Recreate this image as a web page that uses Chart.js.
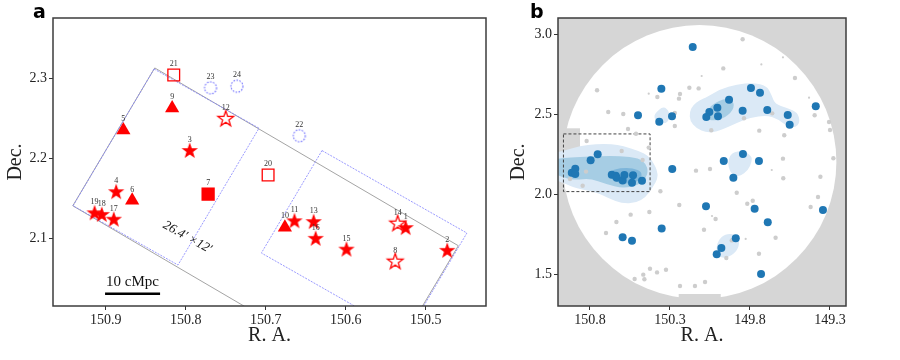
<!DOCTYPE html>
<html>
<head>
<meta charset="utf-8">
<script src="https://cdn.jsdelivr.net/npm/chart.js@4.4.1/dist/chart.umd.min.js"></script>
<style>
html, body { margin: 0; padding: 0; background: #fff; }
#wrap { position: relative; width: 900px; height: 360px; }
canvas { position: absolute; top: 0; }
</style>
</head>
<body>
<div id="wrap">
  <canvas id="panelA" width="500" height="360" style="left:0"></canvas>
  <canvas id="panelB" width="400" height="360" style="left:500px"></canvas>
</div>
<script>
// ---- panel a : members, [id, R.A., Dec.] ----
const filledStars = [[3,150.795,2.209],[4,150.887,2.1575],[17,150.890,2.123],[18,150.905,2.129],[19,150.914,2.131],
  [11,150.664,2.121],[13,150.640,2.120],[16,150.6375,2.099],[15,150.599,2.0855],[1,150.525,2.1125],[2,150.473,2.084]];
const openStars = [[12,150.750,2.249],[14,150.535,2.118],[8,150.538,2.0704]];
const triangles = [[9,150.817,2.2625],[5,150.878,2.235],[6,150.867,2.147],[10,150.676,2.1134]];
const filledSquares = [[7,150.772,2.155]];
const openSquares = [[21,150.815,2.304],[20,150.697,2.179]];
const dottedCircles = [[23,150.769,2.288],[24,150.736,2.290],[22,150.658,2.228]];

// field outlines (corners, R.A./Dec.)
const wideField = [[150.83875,2.3129],[150.4591,2.0904],[150.5616,1.9179],[150.94125,2.1404]];
const pointingA = [[150.8396,2.3116],[150.7084,2.2375],[150.8097,2.0663],[150.9409,2.1404]];
const pointingB = [[150.6296,2.2095],[150.4484,2.1063],[150.5242,1.9781],[150.7054,2.0813]];

const boxRA = [150.4245, 150.966];
const boxDec = [2.015, 2.3754];
const raTicksA = [150.9, 150.8, 150.7, 150.6, 150.5];
const decTicksA = [2.1, 2.2, 2.3];

const scaleBarRA = [150.9009, 150.8321];
const scaleBarDec = 2.0304;
const scaleBarText = '10 cMpc';
const sizeText = '26.4\u2032 \u00d712\u2032';

// ---- panel b ----
const blueDots = [[150.158,2.919],[150.354,2.658],[150.5,2.492],[150.367,2.452],[150.2875,2.486],[150.752,2.248],[150.796,2.211],
  [149.794,2.6625],[149.7375,2.633],[149.931,2.589],[150.004,2.539],[150.054,2.5125],[150.073,2.481],[150.0,2.486],
  [149.846,2.52],[149.692,2.525],[149.564,2.494],[149.552,2.433],[149.389,2.548],[149.844,2.25],[149.964,2.206],
  [149.744,2.206],[149.904,2.102],[150.075,1.923],[149.771,1.908],[149.689,1.823],[149.344,1.9],[149.889,1.723],
  [149.979,1.6625],[150.008,1.623],[149.731,1.5],[150.892,2.158],[150.914,2.133],[150.892,2.125],[150.664,2.121],
  [150.639,2.114],[150.633,2.102],[150.596,2.085],[150.585,2.119],[150.531,2.117],[150.5375,2.071],[150.475,2.083],
  [150.286,2.156],[150.352,1.785],[150.596,1.729],[150.5375,1.708]];
const grayDots = [[150.756,2.648],[150.379,2.606],[150.2375,2.625],[150.244,2.596],[150.179,2.664],[150.121,2.66],
  [150.686,2.5125],[150.592,2.5],[150.27,2.506],[150.27,2.425],[150.5625,2.406],[150.5125,2.377],[150.821,2.331],
  [150.602,2.269],[150.433,2.29],[150.471,2.2125],[149.846,2.967],[149.967,2.785],[149.519,2.725],[149.8375,2.473],
  [149.661,2.504],[150.042,2.398],[149.742,2.396],[149.586,2.367],[149.396,2.492],[149.306,2.45],[149.3,2.4],
  [149.594,2.221],[149.279,2.223],[150.1375,2.146],[150.05,2.156],[149.592,2.098],[149.36,2.108],[149.883,2.008],
  [149.817,1.939],[149.783,1.958],[149.375,1.981],[149.421,1.919],[150.015,1.844],[150.0875,1.777],[149.64,1.727],
  [149.914,1.71],[149.744,1.627],[149.948,1.6],[150.081,1.45],[150.925,2.094],[150.846,2.052],[150.825,2.14],
  [150.36,2.017],[150.429,1.8875],[150.242,1.931],[150.546,1.871],[150.635,1.825],[150.7,1.756],[150.425,1.533],
  [150.325,1.527],[150.381,1.51],[150.467,1.496],[150.521,1.469],[150.46,1.467],[150.2375,1.425],[150.144,1.425]];
const faintDots = [[150.433,2.627],[149.594,2.854],[149.729,2.81],[150.102,2.7375],[149.431,2.602],[149.664,2.15],
  [150.0375,1.8625],[149.827,1.719]];

// density contours, outer to inner
const contourLow = [
  [[151.05,2.25],[150.969,2.269],[150.8625,2.3],[150.7625,2.3125],[150.6625,2.3125],[150.5938,2.3],[150.4938,2.269],
   [150.4313,2.2375],[150.4,2.1875],[150.3813,2.15],[150.375,2.1],[150.4063,2.0438],[150.45,1.9813],[150.5125,1.9438],
   [150.6,1.9406],[150.6813,1.9719],[150.7625,2.0125],[150.8875,2.0344],[150.95,2.0625],[151.05,2.1]],
  [[150.178,2.5125],[150.156,2.556],[150.1125,2.5875],[150.069,2.606],[149.9875,2.654],[149.881,2.6856],[149.781,2.6956],
   [149.694,2.675],[149.6625,2.6125],[149.644,2.5625],[149.569,2.539],[149.5,2.508],[149.4875,2.4456],[149.519,2.414],
   [149.569,2.425],[149.625,2.467],[149.694,2.492],[149.8,2.477],[149.881,2.4456],[149.9875,2.394],[150.069,2.381],
   [150.1375,2.4125],[150.175,2.456]],
  [[149.914,2.258],[149.842,2.273],[149.789,2.2375],[149.789,2.2],[149.811,2.15],[149.8625,2.108],[149.914,2.119],
   [149.936,2.1706],[149.936,2.2125]],
  [[149.956,1.75],[149.894,1.75],[149.8625,1.702],[149.883,1.6394],[149.946,1.598],[149.998,1.608],[150.0125,1.6606],
   [149.998,1.7125]],
  [[150.394,2.504],[150.342,2.55],[150.3,2.514],[150.3106,2.442],[150.373,2.442],[150.4,2.475]]
];
const contourMid = [
  [[151.05,2.2125],[150.975,2.225],[150.8625,2.2313],[150.7375,2.2375],[150.6125,2.2375],[150.4938,2.225],[150.45,2.1875],
   [150.4375,2.1438],[150.45,2.1],[150.4938,2.0563],[150.5938,2.034],[150.7,2.0625],[150.8,2.097],[150.8875,2.0875],
   [150.95,2.097],[151.05,2.1375]],
  [[150.081,2.467],[150.069,2.5125],[150.039,2.5606],[149.946,2.602],[149.894,2.5706],[149.914,2.508],[149.998,2.456]]
];
const contourHigh = [
  [[150.675,2.1438],[150.6125,2.1625],[150.5313,2.1625],[150.475,2.1375],[150.4813,2.0938],[150.5375,2.0625],
   [150.625,2.0688],[150.675,2.1]]
];

// survey footprint: circle plus masked boxes [ra1, ra2, dec1, dec2]
const fieldCentre = [150.116, 2.2];
const fieldRadius = 0.856;
const maskBoxes = [[150.2456, 149.983, 1.2, 1.375], [150.967, 150.8625, 2.2375, 2.4106]];

const raTicksB = [150.8, 150.3, 149.8, 149.3];
const decTicksB = [1.5, 2.0, 2.5, 3.0];

// ---------------------------------------------------------------
const RED = '#ff0000';
const serif = '"Liberation Serif", "DejaVu Serif", serif';
const tickFont = { family: serif, size: 14 };
const titleFont = { family: serif, size: 20, lineHeight: 1.2 };

function starGlyph(R, filled) {
    const c = document.createElement('canvas');
    const s = 2 * Math.ceil(R + 2);
    c.width = c.height = s;
    const g = c.getContext('2d');
    g.translate(s / 2, s / 2);
    g.beginPath();
    for (let k = 0; k < 10; k++) {
        const r = k % 2 ? R * 0.4 : R;
        const a = -Math.PI / 2 + k * Math.PI / 5;
        g.lineTo(r * Math.cos(a), r * Math.sin(a));
    }
    g.closePath();
    if (filled) { g.fillStyle = RED; g.fill(); }
    else { g.strokeStyle = RED; g.lineWidth = 1.3; g.stroke(); }
    return c;
}

function dottedRing(R) {
    const c = document.createElement('canvas');
    const s = 2 * Math.ceil(R + 2);
    c.width = c.height = s;
    const g = c.getContext('2d');
    g.strokeStyle = '#7070ff';
    g.lineWidth = 1.1;
    g.setLineDash([1.6, 1.4]);
    g.beginPath();
    g.arc(s / 2, s / 2, R, 0, Math.PI * 2);
    g.stroke();
    return c;
}

const toPts = list => list.map(([id, ra, dec]) => ({ x: ra, y: dec, id: id }));
const toXY = list => list.map(([ra, dec]) => ({ x: ra, y: dec }));

function axes(xr, yr, xt, yt, yWidth, yTitlePad, xReverse) {
    const grid = { drawOnChartArea: false, tickLength: 4, tickColor: '#333', tickWidth: 1 };
    const ticks = { callback: v => Number(v).toFixed(1), font: tickFont, color: '#222', padding: 2, autoSkip: false, maxRotation: 0 };
    return {
        x: {
            type: 'linear', position: 'bottom', min: xr[0], max: xr[1], reverse: xReverse,
            afterBuildTicks: s => { s.ticks = xt.map(v => ({ value: v })); },
            afterFit: s => { s.height = 54; },
            ticks: ticks, grid: grid, border: { display: false },
            title: { display: true, text: 'R. A.', font: titleFont, color: '#222', padding: { top: 0, bottom: 12 } }
        },
        y: {
            type: 'linear', position: 'left', min: yr[0], max: yr[1],
            afterBuildTicks: s => { s.ticks = yt.map(v => ({ value: v })); },
            afterFit: s => { s.width = yWidth; },
            ticks: ticks, grid: grid, border: { display: false },
            title: { display: true, text: 'Dec.', font: titleFont, color: '#222', padding: { top: yTitlePad, bottom: 0 } }
        }
    };
}

function framePlugin(letter, lx) {
    return {
        id: 'frame',
        afterDraw(chart) {
            const { ctx, chartArea: a } = chart;
            ctx.save();
            ctx.strokeStyle = '#3c3c3c';
            ctx.lineWidth = 1.5;
            ctx.strokeRect(a.left, a.top, a.right - a.left, a.bottom - a.top);
            ctx.fillStyle = '#000';
            ctx.font = 'bold 19px "DejaVu Sans", sans-serif';
            ctx.textBaseline = 'alphabetic';
            ctx.fillText(letter, lx, 18);
            ctx.restore();
        }
    };
}

function pathOf(chart, pts) {
    const { x, y } = chart.scales;
    const ctx = chart.ctx;
    ctx.beginPath();
    pts.forEach(([ra, dec], k) => {
        const px = x.getPixelForValue(ra), py = y.getPixelForValue(dec);
        if (k) ctx.lineTo(px, py); else ctx.moveTo(px, py);
    });
    ctx.closePath();
}

function smoothPathOf(chart, pts) {
    const { x, y } = chart.scales;
    const ctx = chart.ctx;
    const p = pts.map(([ra, dec]) => [x.getPixelForValue(ra), y.getPixelForValue(dec)]);
    const n = p.length;
    const mid = (a, b) => [(a[0] + b[0]) / 2, (a[1] + b[1]) / 2];
    ctx.beginPath();
    const m0 = mid(p[n - 1], p[0]);
    ctx.moveTo(m0[0], m0[1]);
    for (let i = 0; i < n; i++) {
        const m = mid(p[i], p[(i + 1) % n]);
        ctx.quadraticCurveTo(p[i][0], p[i][1], m[0], m[1]);
    }
    ctx.closePath();
}

// ---- panel a overlays ----
const fieldsPlugin = {
    id: 'fields',
    beforeDatasetsDraw(chart) {
        const { ctx, chartArea: a, scales: { x, y } } = chart;
        ctx.save();
        ctx.beginPath();
        ctx.rect(a.left, a.top, a.right - a.left, a.bottom - a.top);
        ctx.clip();

        ctx.strokeStyle = '#8d8d8d';
        ctx.lineWidth = 0.8;
        pathOf(chart, wideField);
        ctx.stroke();

        ctx.strokeStyle = '#8080ff';
        ctx.setLineDash([2, 1.2]);
        pathOf(chart, pointingA); ctx.stroke();
        pathOf(chart, pointingB); ctx.stroke();
        ctx.setLineDash([]);

        // scale bar
        const by = y.getPixelForValue(scaleBarDec);
        ctx.strokeStyle = '#000';
        ctx.lineWidth = 2.5;
        ctx.beginPath();
        ctx.moveTo(x.getPixelForValue(scaleBarRA[0]), by);
        ctx.lineTo(x.getPixelForValue(scaleBarRA[1]), by);
        ctx.stroke();
        ctx.fillStyle = '#111';
        ctx.font = '15px ' + serif;
        ctx.textAlign = 'center';
        ctx.textBaseline = 'alphabetic';
        ctx.fillText(scaleBarText, x.getPixelForValue((scaleBarRA[0] + scaleBarRA[1]) / 2), y.getPixelForValue(2.0398));

        // field size
        ctx.save();
        ctx.translate(x.getPixelForValue(150.798), y.getPixelForValue(2.101));
        ctx.rotate(29 * Math.PI / 180);
        ctx.font = 'italic 13px ' + serif;
        ctx.textBaseline = 'middle';
        ctx.fillText(sizeText, 0, 0);
        ctx.restore();
        ctx.restore();
    }
};

const idLabels = {
    id: 'idLabels',
    afterDatasetsDraw(chart) {
        const ctx = chart.ctx;
        ctx.save();
        ctx.font = '8px ' + serif;
        ctx.fillStyle = '#333';
        ctx.textAlign = 'center';
        ctx.textBaseline = 'middle';
        chart.data.datasets.forEach((ds, i) => {
            chart.getDatasetMeta(i).data.forEach((el, j) => {
                ctx.fillText(String(ds.data[j].id), el.x, el.y - 11);
            });
        });
        ctx.restore();
    }
};

new Chart(document.getElementById('panelA'), {
    type: 'scatter',
    data: {
        datasets: [
            { data: toPts(filledStars), pointStyle: starGlyph(8.6, true), pointRadius: 8 },
            { data: toPts(openStars), pointStyle: starGlyph(8.2, false), pointRadius: 8 },
            { data: toPts(triangles), pointStyle: 'triangle', pointRadius: 8.2, backgroundColor: RED, borderColor: RED, borderWidth: 0 },
            { data: toPts(filledSquares), pointStyle: 'rect', pointRadius: 9.4, backgroundColor: RED, borderColor: RED, borderWidth: 0 },
            { data: toPts(openSquares), pointStyle: 'rect', pointRadius: 8.3, backgroundColor: 'rgba(0,0,0,0)', borderColor: RED, borderWidth: 1.3 },
            { data: toPts(dottedCircles), pointStyle: dottedRing(6), pointRadius: 6 }
        ]
    },
    options: {
        responsive: false,
        animation: false,
        layout: { padding: { left: 0, right: 14, top: 18, bottom: 0 } },
        plugins: { legend: { display: false }, tooltip: { enabled: false } },
        scales: axes(boxRA, boxDec, raTicksA, decTicksA, 53, 4, true)
    },
    plugins: [fieldsPlugin, idLabels, framePlugin('a', 33)]
});

// ---- panel b overlays ----
const footprintPlugin = {
    id: 'footprint',
    beforeDatasetsDraw(chart) {
        const { ctx, chartArea: a, scales: { x, y } } = chart;
        ctx.save();
        ctx.beginPath();
        ctx.rect(a.left, a.top, a.right - a.left, a.bottom - a.top);
        ctx.clip();

        ctx.fillStyle = '#d6d6d6';
        ctx.fillRect(a.left, a.top, a.right - a.left, a.bottom - a.top);
        const cx = x.getPixelForValue(fieldCentre[0]);
        const cy = y.getPixelForValue(fieldCentre[1]);
        const r = Math.abs(x.getPixelForValue(fieldCentre[0] + fieldRadius) - cx);
        ctx.fillStyle = '#fff';
        ctx.beginPath();
        ctx.arc(cx, cy, r, 0, Math.PI * 2);
        ctx.fill();

        ctx.fillStyle = '#d6d6d6';
        maskBoxes.forEach(([r1, r2, d1, d2]) => {
            const x1 = x.getPixelForValue(r1), x2 = x.getPixelForValue(r2);
            const y1 = y.getPixelForValue(d1), y2 = y.getPixelForValue(d2);
            ctx.fillRect(Math.min(x1, x2), Math.min(y1, y2), Math.abs(x2 - x1), Math.abs(y2 - y1));
        });

        [[contourLow, '#dbe9f6'], [contourMid, '#a6cde4'], [contourHigh, '#7db5da']].forEach(([set, col]) => {
            ctx.fillStyle = col;
            set.forEach(poly => { smoothPathOf(chart, poly); ctx.fill(); });
        });

        // zoom-in box = panel a limits
        const bx1 = x.getPixelForValue(boxRA[1]), bx2 = x.getPixelForValue(boxRA[0]);
        const by1 = y.getPixelForValue(boxDec[1]), by2 = y.getPixelForValue(boxDec[0]);
        ctx.strokeStyle = '#444';
        ctx.lineWidth = 1;
        ctx.setLineDash([3, 2]);
        ctx.strokeRect(bx1, by1, bx2 - bx1, by2 - by1);
        ctx.restore();
    }
};

new Chart(document.getElementById('panelB'), {
    type: 'scatter',
    data: {
        datasets: [
            { data: toXY(blueDots), pointRadius: 4, backgroundColor: '#1f77b4', borderWidth: 0 },
            { data: toXY(grayDots), pointRadius: 2.2, backgroundColor: '#cdcdcd', borderWidth: 0 },
            { data: toXY(faintDots), pointRadius: 1.1, backgroundColor: '#cdcdcd', borderWidth: 0 }
        ]
    },
    options: {
        responsive: false,
        animation: false,
        layout: { padding: { left: 0, right: 54, top: 18, bottom: 0 } },
        plugins: { legend: { display: false }, tooltip: { enabled: false } },
        scales: axes([149.2, 151.0], [1.3, 3.1], raTicksB, decTicksB, 58, 7, true)
    },
    plugins: [footprintPlugin, framePlugin('b', 30)]
});
</script>
</body>
</html>
